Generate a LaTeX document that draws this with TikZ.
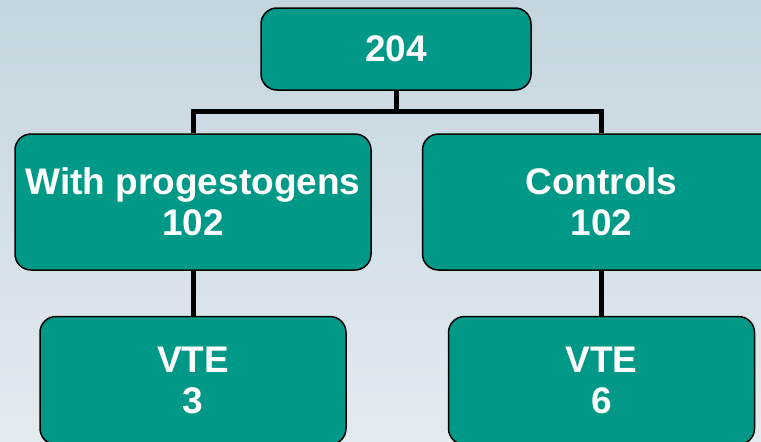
\documentclass[tikz,border=0pt]{standalone}
\usepackage{fontspec}
\setmainfont{Liberation Sans}
\usepackage{tikz}
\usetikzlibrary{positioning}

\definecolor{teal}{HTML}{009886}
\definecolor{bgtop}{HTML}{C4D5DF}
\definecolor{bgbot}{HTML}{E3EBF0}

\begin{document}
\begin{tikzpicture}[x=1pt, y=-1pt]
  \tikzstyle{group} = [rectangle, rounded corners=16pt, draw=black, line width=1.5pt,
    fill=teal, text=white, align=center, inner sep=0pt,
    font=\bfseries\fontsize{37}{41}\selectfont]
  \tikzstyle{conn} = [line width=5pt, draw=black]
  % background
  \shade[top color=bgtop, bottom color=bgbot] (0,0) rectangle (761,442);
  \useasboundingbox (0,0) rectangle (761,442);
  \clip (0,0) rectangle (761,442);
  % Define nodes
  \node[group, minimum width=270pt, minimum height=82pt] (total) at (396,49) {204};
  \node[group, minimum width=356pt, minimum height=136pt] (prog) at (193,202) {With progestogens\\102};
  \node[group, minimum width=358pt, minimum height=136pt, right=50pt of prog] (ctrl) {Controls\\102};
  \node[group, minimum width=306pt, minimum height=128pt, below=45pt of prog] (vteprog) {VTE\\3};
  \node[group, minimum width=306pt, minimum height=128pt, below=45pt of ctrl] (vtectrl) {VTE\\6};
  \coordinate (bar) at (396,111);

  \draw[conn] (total.south) -- (bar);
  \draw[conn] (prog.north) |- (ctrl.north |- bar) -- (ctrl.north);
  \draw[conn] (prog.south) -- (vteprog.north);
  \draw[conn] (ctrl.south) -- (vtectrl.north);
\end{tikzpicture}
\end{document}
